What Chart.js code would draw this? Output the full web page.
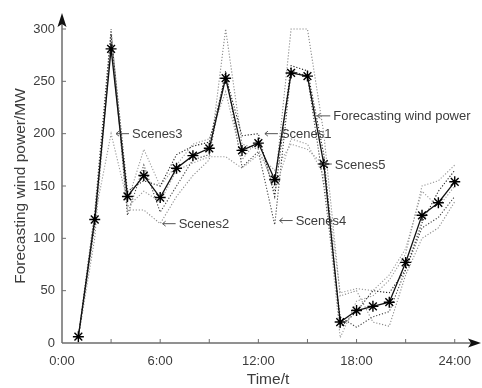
<!DOCTYPE html>
<html>
<head>
<meta charset="utf-8">
<script src="https://cdn.jsdelivr.net/npm/chart.js@4"></script>
<style>
  body { margin: 0; background: #fff; }
</style>
</head>
<body>
<canvas id="myChart" width="482" height="388"></canvas>
<script>
// data
let hours = [1, 2, 3, 4, 5, 6, 7, 8, 9, 10, 11, 12, 13, 14, 15, 16, 17, 18, 19, 20, 21, 22, 23, 24];
let forecast = [6, 118, 281, 140, 160, 139, 167, 179, 186, 253, 184, 191, 156, 258, 255, 171, 20, 31, 35, 39, 77, 122, 134, 154];
let scenes1 = [6, 112, 295, 145, 155, 150, 180, 188, 192, 255, 198, 200, 140, 265, 260, 180, 15, 30, 50, 48, 70, 115, 145, 165];
let scenes2 = [5, 100, 290, 127, 127, 114, 140, 160, 175, 300, 190, 185, 150, 300, 300, 200, 45, 50, 20, 16, 65, 100, 110, 135];
let scenes3 = [7, 120, 200, 135, 185, 150, 170, 190, 195, 240, 175, 195, 145, 195, 190, 160, 5, 40, 45, 60, 85, 150, 155, 170];
let scenes4 = [6, 125, 300, 122, 170, 125, 150, 175, 180, 260, 168, 183, 113, 260, 255, 150, 25, 15, 25, 30, 70, 110, 120, 140];
let scenes5 = [5, 115, 285, 130, 145, 135, 165, 172, 178, 178, 167, 180, 165, 190, 185, 170, 48, 52, 50, 65, 90, 145, 130, 150];
let labelHours = [0, 6, 12, 18, 24];

// callouts: text, hour and value the little arrow points at
let notes = [
  { text: "Scenes3", h: 3.3, v: 200, len: 13 },
  { text: "Scenes2", h: 6.15, v: 114, len: 13 },
  { text: "Scenes1", h: 12.4, v: 200, len: 13 },
  { text: "Scenes4", h: 13.3, v: 117, len: 13 },
  { text: "Scenes5", h: 16.0, v: 171, len: 8 },
  { text: "Forecasting wind power", h: 15.6, v: 217, len: 13 }
];

const textColor = "#3c3c3c";
const axisColor = "#6e6e6e";
const fontFam = "'Liberation Sans', Arial, sans-serif";

function pts(values) {
  return hours.map((h, i) => ({ x: h, y: values[i] }));
}

function sceneSet(values, color) {
  return {
    data: pts(values),
    borderColor: color,
    borderWidth: 1.1,
    borderDash: [1.2, 1.8],
    pointRadius: 0,
    fill: false,
    tension: 0,
    clip: false
  };
}

const decor = {
  id: "decor",
  afterDraw(c) {
    const ctx = c.ctx;
    const x = c.scales.x, y = c.scales.y;
    const x0 = x.getPixelForValue(0), y0 = y.getPixelForValue(0);
    ctx.save();

    // axes with arrow heads
    ctx.strokeStyle = axisColor;
    ctx.lineWidth = 1.5;
    ctx.beginPath();
    ctx.moveTo(x0, y0); ctx.lineTo(c.width - 8, y0);
    ctx.moveTo(x0, y0); ctx.lineTo(x0, 22);
    ctx.stroke();
    ctx.fillStyle = "#111";
    ctx.beginPath();
    ctx.moveTo(x0, 13); ctx.lineTo(x0 - 4.5, 27); ctx.lineTo(x0, 24); ctx.lineTo(x0 + 4.5, 27);
    ctx.closePath(); ctx.fill();
    ctx.beginPath();
    ctx.moveTo(c.width - 1, y0); ctx.lineTo(c.width - 14, y0 - 4.5); ctx.lineTo(c.width - 11, y0); ctx.lineTo(c.width - 14, y0 + 4.5);
    ctx.closePath(); ctx.fill();

    // inward tick marks
    ctx.lineWidth = 1;
    ctx.beginPath();
    x.ticks.forEach(t => {
      const px = x.getPixelForValue(t.value);
      if (t.value > 0) { ctx.moveTo(px, y0); ctx.lineTo(px, y0 - 4); }
    });
    y.ticks.forEach(t => {
      const py = y.getPixelForValue(t.value);
      if (t.value > 0) { ctx.moveTo(x0, py); ctx.lineTo(x0 + 4, py); }
    });
    ctx.stroke();

    // callouts
    ctx.font = "13px " + fontFam;
    ctx.textBaseline = "middle";
    ctx.textAlign = "left";
    notes.forEach(n => {
      const px = x.getPixelForValue(n.h), py = y.getPixelForValue(n.v);
      ctx.strokeStyle = "#555";
      ctx.beginPath();
      ctx.moveTo(px, py); ctx.lineTo(px + n.len, py);
      ctx.moveTo(px + 3, py - 2.5); ctx.lineTo(px, py); ctx.lineTo(px + 3, py + 2.5);
      ctx.stroke();
      ctx.fillStyle = textColor;
      ctx.fillText(n.text, px + n.len + 3, py + 1);
    });

    // x axis title
    ctx.font = "15.5px " + fontFam;
    ctx.textAlign = "center";
    ctx.fillText("Time/t", 268, 380);
    ctx.restore();
  }
};

let chart = new Chart(document.getElementById("myChart").getContext("2d"), {
  type: "line",
  data: {
    datasets: [
      {
        data: pts(forecast),
        borderColor: "#111",
        borderWidth: 1.3,
        pointStyle: "star",
        pointRadius: 5.5,
        pointBorderColor: "#000",
        pointBorderWidth: 1.4,
        fill: false,
        tension: 0,
        clip: false
      },
      sceneSet(scenes1, "#222"),
      sceneSet(scenes2, "#8a8a8a"),
      sceneSet(scenes3, "#999"),
      sceneSet(scenes4, "#444"),
      sceneSet(scenes5, "#9a9a9a")
    ]
  },
  options: {
    responsive: false,
    animation: false,
    devicePixelRatio: 1,
    layout: { padding: { left: 0, right: 27, top: 29, bottom: 0 } },
    plugins: { legend: { display: false }, tooltip: { enabled: false } },
    scales: {
      x: {
        type: "linear",
        min: 0,
        max: 24,
        afterFit(s) { s.height = 45; },
        grid: { display: false, drawTicks: false },
        border: { display: false },
        ticks: {
          stepSize: 3,
          padding: 11,
          maxRotation: 0,
          autoSkip: false,
          color: textColor,
          font: { size: 13, family: fontFam },
          callback: v => labelHours.includes(v) ? v + ":00" : ""
        }
      },
      y: {
        min: 0,
        max: 300,
        afterFit(s) { s.width = 62; },
        grid: { display: false, drawTicks: false },
        border: { display: false },
        ticks: {
          stepSize: 50,
          padding: 7,
          color: textColor,
          font: { size: 13, family: fontFam }
        },
        title: {
          display: true,
          text: "Forecasting wind power/MW",
          color: textColor,
          font: { size: 15.5, family: fontFam },
          padding: { top: 11, bottom: 0 }
        }
      }
    }
  },
  plugins: [decor]
});
</script>
</body>
</html>
